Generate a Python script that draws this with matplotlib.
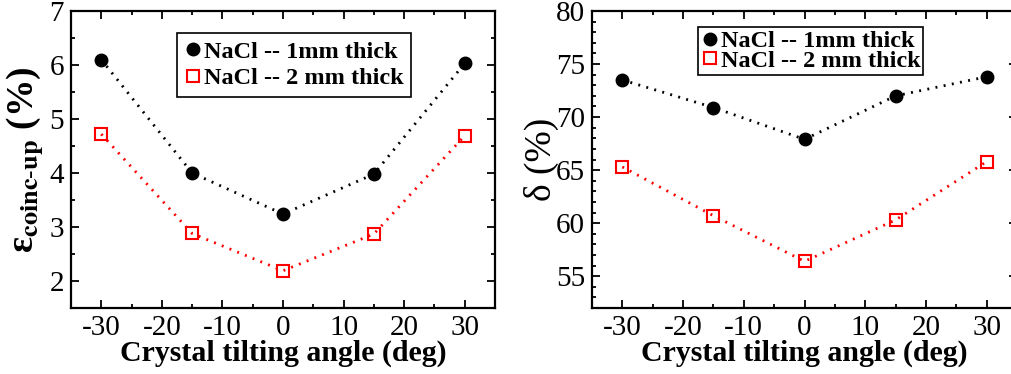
import numpy as np
import matplotlib
matplotlib.use("Agg")
import matplotlib.pyplot as plt
from matplotlib.ticker import MultipleLocator

angles = [-30, -15, 0, 15, 30]

# left panel: coincidence-up efficiency (%)
eff_1mm = [6.10, 4.00, 3.24, 3.98, 6.03]
eff_2mm = [4.72, 2.88, 2.19, 2.87, 4.69]

# right panel: delta (%)
delta_1mm = [73.5, 70.9, 67.9, 72.0, 73.8]
delta_2mm = [65.3, 60.7, 56.4, 60.3, 65.8]

labels = ["NaCl -- 1mm thick", "NaCl -- 2 mm thick"]

plt.rcParams['font.family'] = ['Liberation Serif', 'DejaVu Serif']
plt.rcParams['mathtext.fontset'] = 'stix'
plt.rcParams['axes.unicode_minus'] = False

fig = plt.figure(figsize=(10.12, 3.74), dpi=100)
ax1 = fig.add_axes([71 / 1012, 66 / 374, 424 / 1012, 297 / 374])
ax2 = fig.add_axes([592 / 1012, 66 / 374, 425 / 1012, 297 / 374])

dots = (0, (0.7, 2.3))


def draw(ax, y1, y2):
    ax.plot(angles, y1, color='black', linestyle=dots, lw=2,
            marker='o', markersize=9, markerfacecolor='black',
            markeredgecolor='black', label=labels[0])
    ax.plot(angles, y2, color='red', linestyle=dots, lw=2,
            marker='s', markersize=8, markerfacecolor='none',
            markeredgecolor='red', markeredgewidth=1.5, label=labels[1])
    ax.set_xlim(-35, 35)
    ax.xaxis.set_major_locator(MultipleLocator(10))
    ax.xaxis.set_minor_locator(MultipleLocator(5))
    ax.tick_params(which='both', direction='in', top=True, right=True,
                   labelsize=21, width=1.3)
    ax.tick_params(which='major', length=6, pad=5)
    ax.tick_params(which='minor', length=3)
    for s in ax.spines.values():
        s.set_linewidth(1.6)
    ax.set_xlabel('Crystal tilting angle (deg)', fontsize=21.5,
                  fontweight='bold', labelpad=-1)


draw(ax1, eff_1mm, eff_2mm)
ax1.set_ylim(1.5, 7)
ax1.yaxis.set_major_locator(MultipleLocator(1))
ax1.yaxis.set_minor_locator(MultipleLocator(0.5))
ax1.set_ylabel('ε$_{\\mathbf{coinc\\text{-}up}}$ (%)', fontsize=27,
               fontweight='bold', labelpad=3)

draw(ax2, delta_1mm, delta_2mm)
ax2.set_ylim(52, 80)
ax2.yaxis.set_major_locator(MultipleLocator(5))
ax2.yaxis.set_minor_locator(MultipleLocator(1))
ax2.set_ylabel('δ (%)', fontsize=27, labelpad=-2)

leg1 = ax1.legend(loc='upper left', bbox_to_anchor=(0.25, 0.925),
                  prop={'weight': 'bold', 'size': 17.5}, fancybox=False,
                  edgecolor='black', framealpha=1, handlelength=0.7,
                  handletextpad=0.1, borderpad=0.3, labelspacing=0.2,
                  borderaxespad=0)
leg1.get_frame().set_linewidth(1.2)
for h in leg1.get_lines():
    h.set_linestyle('none')

leg2 = ax2.legend(loc='upper left', bbox_to_anchor=(0.25, 0.945),
                  prop={'weight': 'bold', 'size': 17.5}, fancybox=False,
                  edgecolor='black', framealpha=1, handlelength=0.7,
                  handletextpad=0.1, borderpad=0.12, labelspacing=-0.1,
                  borderaxespad=0)
leg2.get_frame().set_linewidth(1.2)
for h in leg2.get_lines():
    h.set_linestyle('none')

fig.savefig('out.png', dpi=100)
